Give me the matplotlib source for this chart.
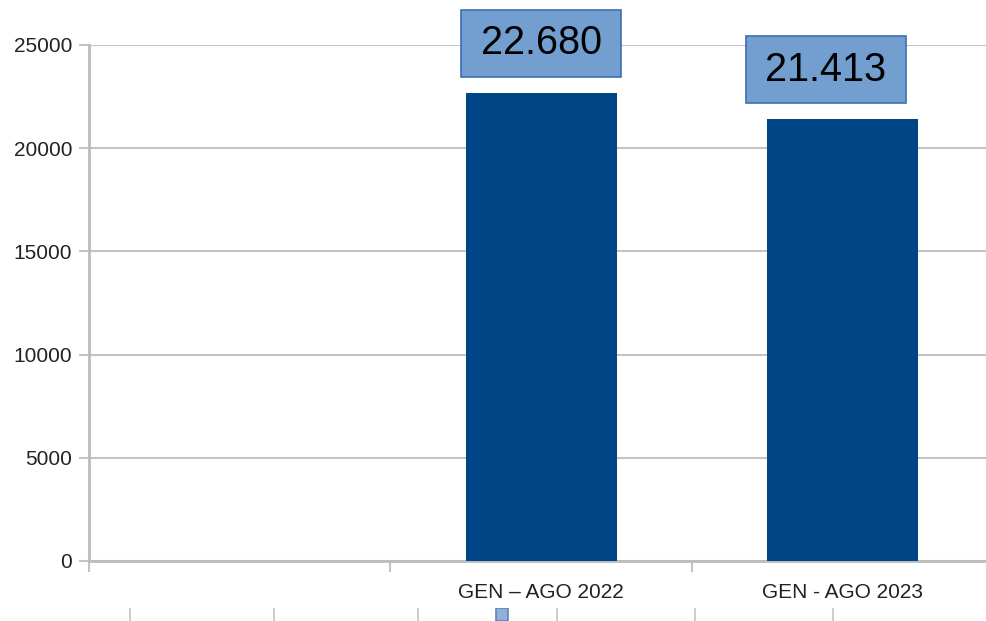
import matplotlib.pyplot as plt
from matplotlib.patches import Rectangle

plt.rcParams['font.family'] = ['Liberation Sans', 'DejaVu Sans']

# categories (first slot is left empty)
categories = ["", "GEN \u2013 AGO 2022", "GEN - AGO 2023"]
values = [None, 22680, 21413]
value_labels = ["", "22.680", "21.413"]
y_ticks = [0, 5000, 10000, 15000, 20000, 25000]

bar_color = "#004586"
box_fill = "#729fcf"
box_edge = "#3c6eb4"
grid_color = "#c4c4c4"

W, H = 986, 621
fig = plt.figure(figsize=(W / 100, H / 100), dpi=100)
ax = fig.add_axes([89 / W, 1 - 561 / H, 904.5 / W, 516 / H])

ax.set_xlim(0, len(categories))
ax.set_ylim(0, 25000)

# one unit per category, bars centred in their slot
centers = [i + 0.5 for i in range(len(categories))]
for c, v in zip(centers, values):
    if v is not None:
        ax.bar(c, v, width=0.5, color=bar_color, zorder=3)

# value labels in boxes above the bars
px_y = 25000 / 516
px_x = 1 / 301.5
label_shift = [0, 0, -17]
for c, v, txt, dx in zip(centers, values, value_labels, label_shift):
    if v is None:
        continue
    bx = c + dx * px_x
    bottom = v + 16 * px_y
    h = 67 * px_y
    w = 160 * px_x
    ax.add_patch(Rectangle((bx - w / 2, bottom), w, h, facecolor=box_fill,
                           edgecolor=box_edge, lw=1.2, zorder=4, clip_on=False))
    ax.text(bx, bottom + h / 2, txt, ha="center", va="center", fontsize=28.5,
            color="black", zorder=5, clip_on=False)

# axes styling
ax.set_yticks(y_ticks)
ax.set_yticklabels([str(t) for t in y_ticks])
ax.yaxis.grid(True, color=grid_color, lw=1.5, zorder=0)
ax.set_axisbelow(True)
ax.set_xticks(range(len(categories) + 1))
ax.set_xticklabels([])
ax.set_xticks(centers, minor=True)
ax.set_xticklabels(categories, minor=True)
ax.tick_params(axis="x", which="minor", length=0, pad=15.5, labelsize=15, labelcolor="#222222")
ax.tick_params(axis="x", which="major", length=8, width=1.5, color=grid_color)
ax.tick_params(axis="y", length=7, width=1.5, color=grid_color, pad=5,
               labelsize=15, labelcolor="#222222")
for s in ["top", "right"]:
    ax.spines[s].set_visible(False)
for s in ["left", "bottom"]:
    ax.spines[s].set_color("#bcbcbc")
    ax.spines[s].set_linewidth(2)

# legend strip at the bottom edge
leg = fig.add_axes([0, 0, 1, 13 / H])
leg.set_xlim(0, W)
leg.set_ylim(0, 13)
leg.axis("off")
for x in [130, 274, 418, 557, 695, 833]:
    leg.plot([x, x], [0, 13], color=grid_color, lw=1.2)
leg.add_patch(Rectangle((496, 0), 12, 13, facecolor="#8eb0d9", edgecolor="#5f86b8", lw=1.2))

fig.savefig("out.png", dpi=100)
